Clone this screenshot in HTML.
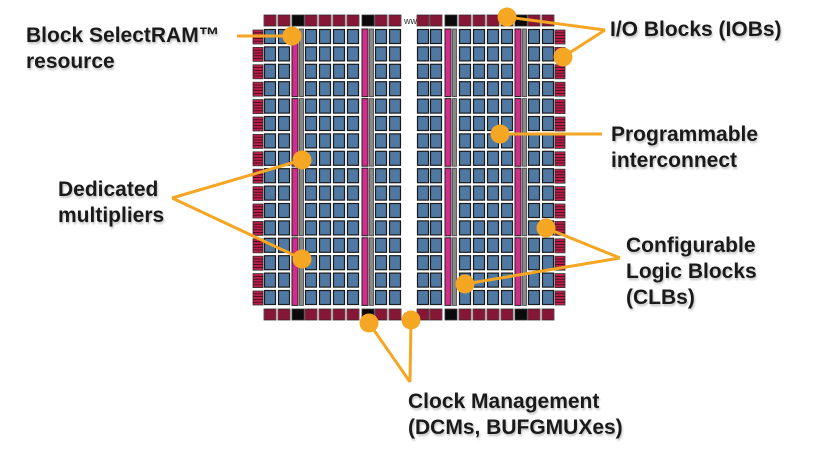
<!DOCTYPE html>
<html><head><meta charset="utf-8"><style>
html,body{margin:0;padding:0;background:#fff;}
#wrap{position:relative;width:813px;height:450px;overflow:hidden;}
.lbl{position:absolute;font-family:"Liberation Sans",sans-serif;font-weight:bold;font-size:21px;line-height:26px;color:#1a1a1a;text-shadow:1px 2px 2px rgba(0,0,0,0.25);white-space:nowrap;}
</style></head><body>
<div id="wrap">
<svg id="chip" width="813" height="450" style="position:absolute;left:0;top:0"></svg>
<div class="lbl" style="left:26px;top:23px">Block SelectRAM™<br>resource</div>
<div class="lbl" style="left:610px;top:17px">I/O Blocks (IOBs)</div>
<div class="lbl" style="left:611px;top:122px">Programmable<br>interconnect</div>
<div class="lbl" style="left:58px;top:177px">Dedicated<br>multipliers</div>
<div class="lbl" style="left:626px;top:233px">Configurable<br>Logic Blocks<br>(CLBs)</div>
<div class="lbl" style="left:408px;top:389px">Clock Management<br>(DCMs, BUFGMUXes)</div>
</div>
<script>
const NS="http://www.w3.org/2000/svg";
const svg=document.getElementById('chip');
function mk(t,a){const e=document.createElementNS(NS,t);for(const k in a)e.setAttribute(k,a[k]);svg.appendChild(e);return e;}
const clbCols=[264,278,305,319,333,347,375,389,417,430,459,473,487,501,528,542];
const ramCols=[292,362,445,515];
const rowTop=29,pitch=17.4,nRows=16;
for(let r=0;r<nRows;r++){
 const y=rowTop+r*pitch;
 clbCols.forEach(x=>{
  const e=mk('rect',{x:x+0.5,y:y+0.5,width:11,height:14,fill:'#4f79a3',stroke:'#1b1b1b','stroke-width':1.2});
  
  
 });
 [253,555].forEach(x=>{
  const g=mk('rect',{x:x,y:y+1,width:10,height:14,fill:'#b8204a',stroke:'#333','stroke-width':0.8});
  
  
  for(let i=1;i<5;i++)mk('line',{x1:x,x2:x+10,y1:y+1+i*2.8,y2:y+1+i*2.8,stroke:'#3a0a18','stroke-width':0.8});
 });
}
for(let s=0;s<4;s++){
 const y=rowTop+s*4*pitch;
 ramCols.forEach(x=>{
  const p=mk('rect',{x:x,y:y,width:6,height:4*pitch-2,fill:'#d42c8a',stroke:'#222','stroke-width':1});
  
  
  const m=mk('rect',{x:x+7.5,y:y,width:4,height:4*pitch-2,fill:'#888',stroke:'#444','stroke-width':0.8});
  
  
 });
}
const topCols=[264,278,292,305,319,333,347,362,375,389,417,430,445,459,473,487,501,515,528,542];
[15,309].forEach(y=>{
 topCols.forEach(x=>{
  const black=ramCols.includes(x);
  const e=mk('rect',{x:x,y:y,width:12,height:11,fill:black?'#0a0a0a':'#b8204a',stroke:'#333','stroke-width':0.8});
  
  
  if(!black)for(let i=1;i<6;i++)mk('line',{x1:x+i*2,x2:x+i*2,y1:y,y2:y+11,stroke:'#3a0a18','stroke-width':0.8});
 });
 mk('text',{x:404,y:y+9,'font-size':9,'font-family':'Liberation Sans,sans-serif',fill:'#333'}).textContent='ww';
});
const O='#f5a623';
const lines=[[237,36,292,36],[605,30,507,17],[605,30,563,57],[602,134,500,134],[172,198,302,160],[172,198,302,259],[620,258,546,228],[620,258,465,284],[410,382,369,323],[410,382,411,320]];
lines.forEach(l=>{const e=mk('line',{x1:l[0],y1:l[1],x2:l[2],y2:l[3],stroke:O,'stroke-width':3});
 
 });
const dots=[[292,36],[507,17],[563,57],[500,134],[302,160],[302,259],[546,228],[465,284],[369,323],[411,320]];
dots.forEach(d=>{const c=mk('circle',{cx:d[0],cy:d[1],r:9.5,fill:O});
 
 });
</script>
</body></html>
